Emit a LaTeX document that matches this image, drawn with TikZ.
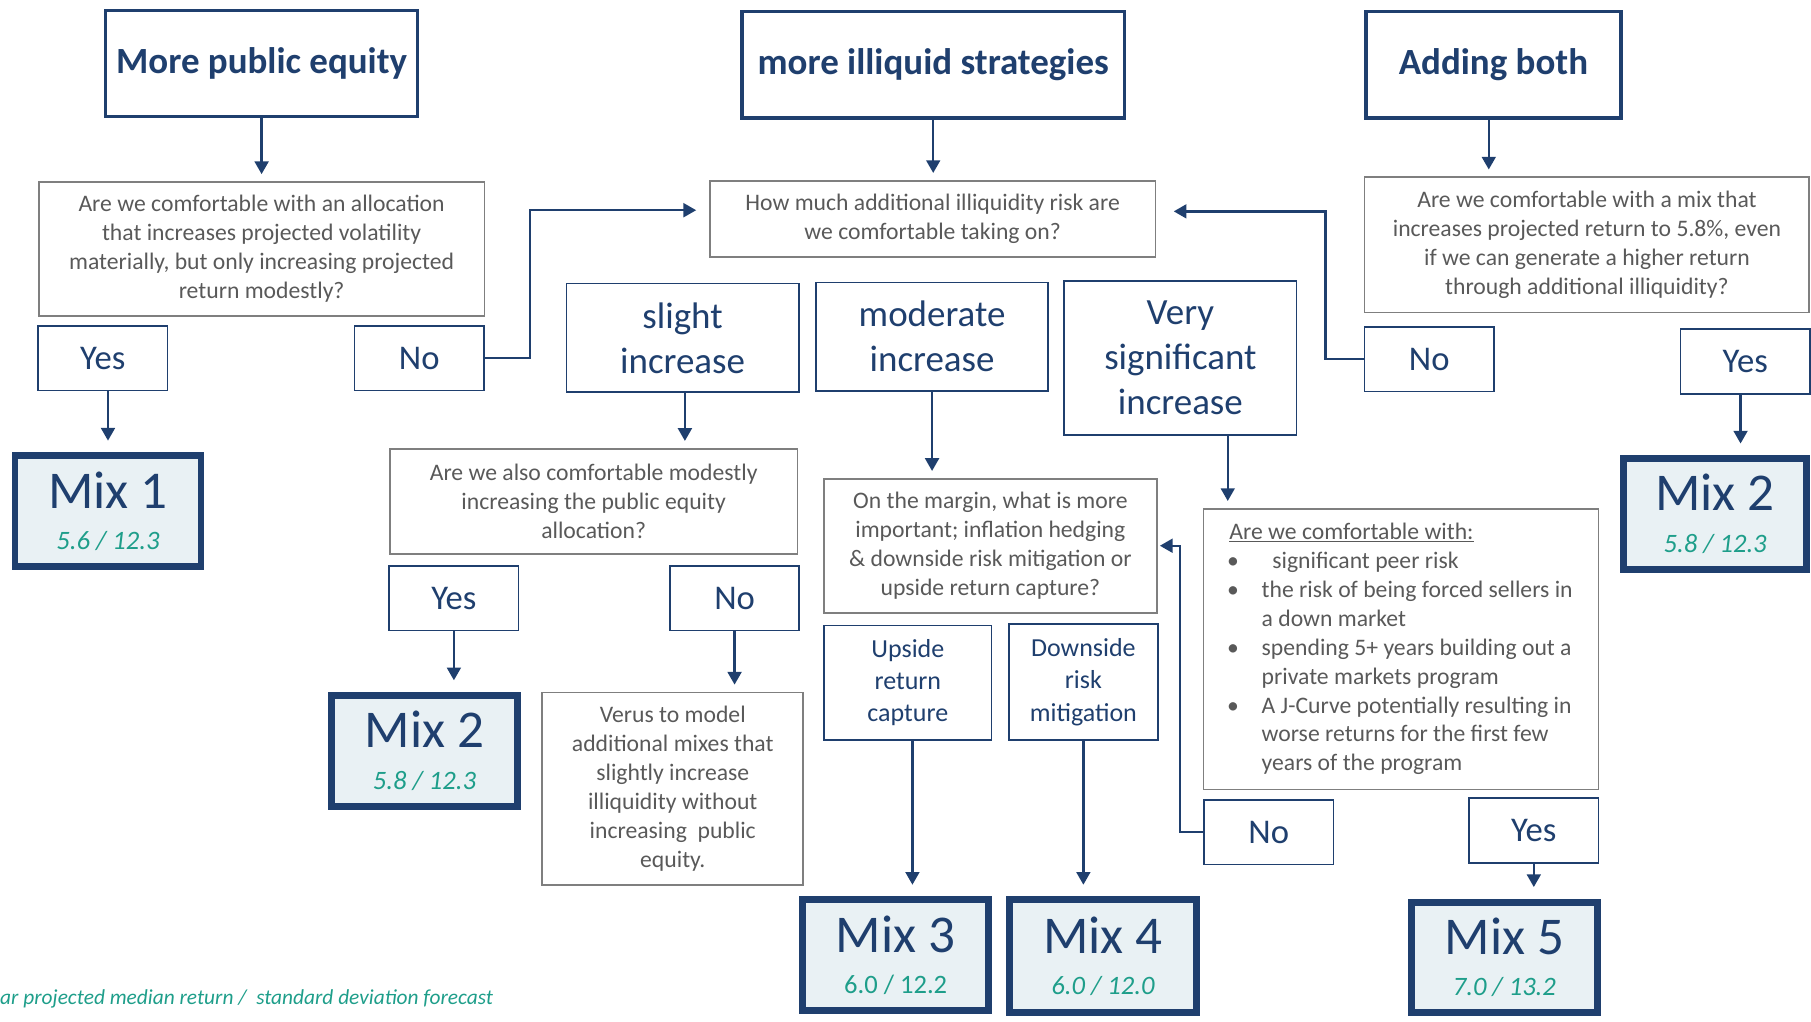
\documentclass[tikz,border=0pt]{standalone}
\usepackage{fontspec}
\setmainfont{Carlito}
\usetikzlibrary{arrows.meta}
\definecolor{navy}{HTML}{1F3F6E}
\definecolor{qgray}{HTML}{7F7F7F}
\definecolor{qtext}{HTML}{595959}
\definecolor{mixfill}{HTML}{E9F1F4}
\definecolor{mixteal}{HTML}{1E9E8A}
\newcommand{\mixstat}[1]{{\fontsize{23}{26}\selectfont\color{mixteal}#1}}
\newcommand{\bul}{\makebox[28pt][l]{\hspace{-2pt}\textbullet}}
\begin{document}
\begin{tikzpicture}[x=1pt, y=-1pt,
    title_style/.style={draw=navy, line width=3pt, text=navy, font=\fontsize{32}{38}\selectfont\bfseries, inner sep=0pt},
    question_style/.style={draw=qgray, line width=1.5pt, text=qtext, font=\fontsize{20.5}{25}\selectfont, align=center, inner sep=0pt},
    answer_style/.style={draw=navy, line width=1.5pt, text=navy, font=\fontsize{30}{36}\selectfont, inner sep=0pt, minimum width=112pt, minimum height=56pt},
    choice_style/.style={draw=navy, line width=1.5pt, text=navy, font=\fontsize{32}{39}\selectfont, align=center, inner sep=0pt},
    mix_style/.style={draw=navy, line width=6pt, fill=mixfill, text=navy, font=\fontsize{46}{36}\selectfont, align=center, inner sep=0pt, minimum width=161pt, minimum height=96pt},
    edge_style/.style={draw=navy, line width=2pt, -{Triangle[length=11pt,width=12pt]}, shorten >=6pt},
    mix_edge_style/.style={edge_style, shorten >=10pt}]

    \useasboundingbox (0,0) rectangle (1568,884);

    \node[title_style, minimum width=270pt, minimum height=92pt] (t1) at (226.5,55) {More public equity};
    \node[title_style, minimum width=331pt, minimum height=92pt] (t2) at (808,56) {more illiquid strategies};
    \node[title_style, minimum width=221pt, minimum height=92pt] (t3) at (1293,56) {Adding both};

    \node[question_style, minimum width=386pt, minimum height=116pt] (q1) at (226.5,215.5) {Are we comfortable with an allocation\\that increases projected volatility\\materially, but only increasing projected\\return modestly?};
    \node[question_style, minimum width=386pt, minimum height=66pt] (q2) at (807.5,189.5) {How much additional illiquidity risk are\\we comfortable taking on?};
    \node[question_style, minimum width=385pt, minimum height=117pt] (q3) at (1374,212) {Are we comfortable with a mix that\\increases projected return to 5.8\%, even\\if we can generate a higher return\\through additional illiquidity?};

    \node[answer_style] (y1) at (89,310) {Yes};
    \node[answer_style] (n1) at (363,310) {No};
    \node[mix_style] (mix1) at (93.5,442.5) {Mix 1\\\mixstat{\itshape 5.6 / 12.3}};

    \node[choice_style, minimum width=201pt, minimum height=94pt] (c1) at (591,292.5) {slight\\increase};
    \node[choice_style, minimum width=201pt, minimum height=94pt] (c2) at (807,291.5) {moderate\\increase};
    \node[choice_style, minimum width=201pt, minimum height=133pt] (c3) at (1022,310) {Very\\significant\\increase};

    \node[answer_style] (n2) at (1237.5,311) {No};
    \node[answer_style] (y2) at (1511,313) {Yes};
    \node[mix_style, minimum width=158pt] (mix2a) at (1485,445) {Mix 2\\\mixstat{\itshape 5.8 / 12.3}};

    \node[question_style, minimum width=353pt, minimum height=91pt] (q4) at (514,434) {Are we also comfortable modestly\\increasing the public equity\\allocation?};
    \node[answer_style] (y3) at (393,518) {Yes};
    \node[answer_style] (n3) at (636,518) {No};
    \node[mix_style] (mix2b) at (367.5,650) {Mix 2\\\mixstat{\itshape 5.8 / 12.3}};
    \node[question_style, minimum width=226pt, minimum height=167pt] (q5) at (582.5,683) {Verus to model\\additional mixes that\\slightly increase\\illiquidity without\\increasing\ \ public\\equity.};

    \node[question_style, minimum width=288pt, minimum height=116pt] (q6) at (857.5,472.5) {On the margin, what is more\\important; inflation hedging\\\& downside risk mitigation or\\upside return capture?};
    \node[choice_style, font=\fontsize{22.5}{28}\selectfont, minimum width=145pt, minimum height=99pt] (c4) at (786,591) {Upside\\return\\capture};
    \node[choice_style, font=\fontsize{22.5}{28}\selectfont, minimum width=129pt, minimum height=100pt] (c5) at (938,590.5) {Downside\\risk\\mitigation};
    \node[mix_style] (mix3) at (775.5,827) {Mix 3\\\mixstat{6.0 / 12.2}};
    \node[mix_style, minimum width=162pt, minimum height=98pt] (mix4) at (955,828) {Mix 4\\\mixstat{\itshape 6.0 / 12.0}};

    \node[question_style, align=left, minimum width=342pt, minimum height=243pt] (q7) at (1213,562) {\underline{Are we comfortable with:}\\\bul\ \ significant peer risk\\\bul the risk of being forced sellers in\\\hspace*{28pt}a down market\\\bul spending 5+ years building out a\\\hspace*{28pt}private markets program\\\bul A J-Curve potentially resulting in\\\hspace*{28pt}worse returns for the first few\\\hspace*{28pt}years of the program};
    \node[answer_style] (n4) at (1098.5,720.5) {No};
    \node[answer_style] (y4) at (1328,719) {Yes};
    \node[mix_style] (mix5) at (1302.5,829) {Mix 5\\\mixstat{\itshape 7.0 / 13.2}};

    \node[anchor=west, inner sep=0pt, text=mixteal, font=\fontsize{18.5}{22}\selectfont\itshape] (note) at (0,865) {ar projected median return /\ \ standard deviation forecast};

    \draw[edge_style] (t1.south) -- (q1.north);
    \draw[edge_style] (t2.south) -- (t2.south |- q2.north);
    \draw[edge_style] ([xshift=-4pt]t3.south) -- ([xshift=-4pt]t3.south |- q3.north);
    \draw[mix_edge_style] (y1.south -| mix1.north) -- (mix1.north);
    \draw[edge_style, shorten >=11pt] (n1.east) -- ++(39,0) |- ([yshift=7.5pt]q2.west);
    \draw[edge_style, shorten >=15pt] (n2.west) -- ++(-33,0) |- ([yshift=6.5pt]q2.east);
    \draw[mix_edge_style] ([xshift=-4pt]y2.south) -- ([xshift=-4pt]y2.south |- mix2a.north);
    \draw[edge_style] ([xshift=2pt]c1.south) -- ([xshift=2pt]c1.south |- q4.north);
    \draw[edge_style] (c2.south) -- (c2.south |- q6.north);
    \draw[edge_style] ([xshift=41pt]c3.south) -- ([xshift=41pt]c3.south |- q7.north);
    \draw[mix_edge_style] (y3.south) -- (y3.south |- mix2b.north);
    \draw[edge_style] (n3.south) -- (n3.south |- q5.north);
    \draw[mix_edge_style] ([xshift=4pt]c4.south) -- ([xshift=4pt]c4.south |- mix3.north);
    \draw[mix_edge_style] (c5.south) -- (c5.south |- mix4.north);
    \draw[edge_style, shorten >=2pt] (n4.west) -- ++(-20,0) |- (q6.east);
    \draw[mix_edge_style] (y4.south) -- (y4.south |- mix5.north);
\end{tikzpicture}
\end{document}
